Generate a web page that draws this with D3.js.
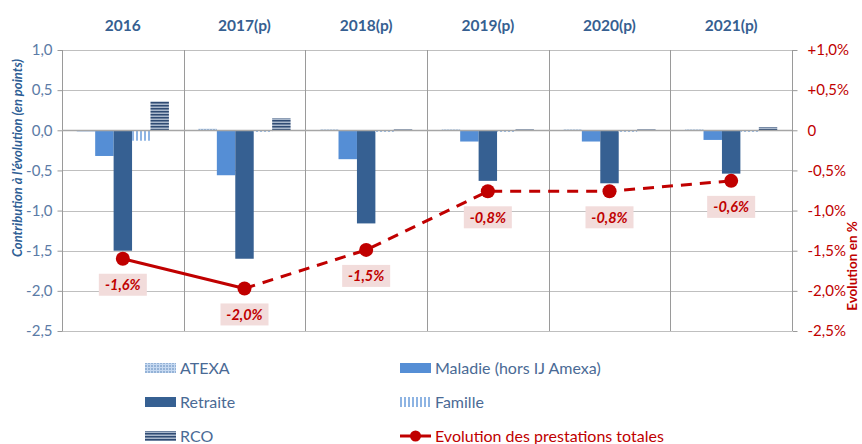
<!DOCTYPE html>
<html>
<head>
<meta charset="utf-8">
<script src="https://cdn.jsdelivr.net/npm/d3@7"></script>
<style>
  body { margin: 0; background: #fff; }
  svg text { font-family: Lato, 'Open Sans', sans-serif; }
</style>
</head>
<body>
<svg id="chart" width="862" height="444"></svg>
<script>
'use strict';

var years = ['2016', '2017(p)', '2018(p)', '2019(p)', '2020(p)', '2021(p)'];
var series = ['ATEXA', 'Maladie (hors IJ Amexa)', 'Retraite', 'Famille', 'RCO'];

// contributions in points, one array per series
var atexa = [-0.02, 0.02, 0.01, 0.01, 0.01, 0.01];
var maladie = [-0.32, -0.56, -0.36, -0.14, -0.14, -0.12];
var retraite = [-1.50, -1.60, -1.16, -0.63, -0.66, -0.54];
var famille = [-0.13, -0.02, -0.02, -0.02, -0.02, -0.02];
var rco = [0.36, 0.15, 0.01, 0.01, 0.01, 0.04];

// total evolution in %
var evolution = [-1.6, -1.97, -1.49, -0.76, -0.76, -0.63];

var leftTicks = [1.0, 0.5, 0, -0.5, -1.0, -1.5, -2.0, -2.5];

var values = [atexa, maladie, retraite, famille, rco];
var fills = ['url(#pAtexa)', '#558ED5', '#366092', 'url(#pFamille)', 'url(#pRco)'];

var svg = d3.select('#chart');
var red = '#C00000';

function fr(d) {
  return d3.format('.1f')(d).replace('.', ',').replace('\u2212', '-');
}

var defs = svg.append('defs');
// atexa: fine dotted grid
var pa = defs.append('pattern').attr('id', 'pAtexa').attr('patternUnits', 'userSpaceOnUse')
  .attr('width', 3).attr('height', 3);
pa.append('rect').attr('width', 3).attr('height', 3).attr('fill', '#C6D9F1');
pa.append('rect').attr('width', 2).attr('height', 2).attr('fill', '#95B3D7');
// famille: vertical stripes
var pf = defs.append('pattern').attr('id', 'pFamille').attr('patternUnits', 'userSpaceOnUse')
  .attr('width', 4).attr('height', 4);
pf.append('rect').attr('width', 4).attr('height', 4).attr('fill', '#fff');
pf.append('rect').attr('width', 2).attr('height', 4).attr('fill', '#8EB4E3');
// rco: horizontal stripes
var pr = defs.append('pattern').attr('id', 'pRco').attr('patternUnits', 'userSpaceOnUse')
  .attr('width', 4).attr('height', 3);
pr.append('rect').attr('width', 4).attr('height', 3).attr('fill', '#A9B8CC');
pr.append('rect').attr('width', 4).attr('height', 1.5).attr('fill', '#2F4B73');

var x0 = d3.scaleBand().domain(years).range([62, 792]);
var x1 = d3.scaleBand().domain(series).range([0, x0.bandwidth()]).paddingOuter(0.8);
var y = d3.scaleLinear().domain([-2.5, 1.0]).range([331, 50]);
var yR = d3.scaleLinear().domain([-2.5, 1.0]).range([331, 50]);

// horizontal gridlines
svg.append('g').selectAll('line').data(leftTicks).enter().append('line')
  .attr('x1', 62).attr('x2', 792)
  .attr('y1', function (d) { return Math.round(y(d)) + 0.5; })
  .attr('y2', function (d) { return Math.round(y(d)) + 0.5; })
  .attr('stroke', '#BFBFBF').attr('stroke-width', 1);

// column separators
var seps = years.map(function (d) { return x0(d); }).concat([792]);
svg.append('g').selectAll('line').data(seps).enter().append('line')
  .attr('x1', function (d) { return Math.round(d) + 0.5; })
  .attr('x2', function (d) { return Math.round(d) + 0.5; })
  .attr('y1', 50).attr('y2', 331)
  .attr('stroke', '#9A9A9A');

// left axis
var axL = svg.append('g').attr('transform', 'translate(62.5,0)')
  .call(d3.axisLeft(y).tickValues(leftTicks).tickSize(5).tickPadding(5).tickFormat(fr));
axL.select('.domain').remove();
axL.selectAll('line').attr('stroke', '#9A9A9A');
axL.selectAll('text').attr('fill', '#5B7BA6').style('font-size', '15px');

// right axis
var axR = svg.append('g').attr('transform', 'translate(792.5,0)')
  .call(d3.axisRight(yR).tickValues(leftTicks).tickSize(5).tickPadding(10)
    .tickFormat(function (d) {
      if (d === 0) { return '0'; }
      return (d > 0 ? '+' : '') + fr(d) + '%';
    }));
axR.select('.domain').remove();
axR.selectAll('line').attr('stroke', '#9A9A9A');
axR.selectAll('text').attr('fill', red).style('font-size', '15px');

// year headers
svg.append('g').selectAll('text').data(years).enter().append('text')
  .attr('x', function (d) { return x0(d) + x0.bandwidth() / 2; })
  .attr('y', 31)
  .attr('text-anchor', 'middle')
  .attr('fill', '#365F91')
  .style('font-size', '15.5px').style('font-weight', 'bold')
  .text(function (d) { return d; });

// bars
series.forEach(function (s, si) {
  svg.append('g').selectAll('rect').data(values[si]).enter().append('rect')
    .attr('x', function (d, i) { return x0(years[i]) + x1(s); })
    .attr('width', x1.bandwidth())
    .attr('y', function (d) { return y(Math.max(0, d)); })
    .attr('height', function (d) { return Math.max(1.5, Math.abs(y(d) - y(0))); })
    .attr('fill', fills[si]);
});

// zero line on top
svg.append('line').attr('x1', 62).attr('x2', 792)
  .attr('y1', Math.round(y(0)) + 0.5).attr('y2', Math.round(y(0)) + 0.5)
  .attr('stroke', '#A6A6A6').attr('stroke-width', 1.5);

// evolution line
var cx = function (i) { return x0(years[i]) + x0.bandwidth() / 2; };
var line = d3.line().x(function (d) { return d[0]; }).y(function (d) { return d[1]; });
var pts = evolution.map(function (v, i) { return [cx(i), yR(v)]; });
svg.append('path').attr('d', line(pts.slice(0, 2)))
  .attr('fill', 'none').attr('stroke', red).attr('stroke-width', 3);
svg.append('path').attr('d', line(pts.slice(1)))
  .attr('fill', 'none').attr('stroke', red).attr('stroke-width', 3)
  .attr('stroke-dasharray', '11,8');
svg.append('g').selectAll('circle').data(pts).enter().append('circle')
  .attr('cx', function (d) { return d[0]; })
  .attr('cy', function (d) { return d[1]; })
  .attr('r', 7).attr('fill', red);

// value labels
var lab = svg.append('g').selectAll('g').data(evolution).enter().append('g')
  .attr('transform', function (v, i) { return 'translate(' + cx(i) + ',' + (yR(v) + 26) + ')'; });
lab.append('rect').attr('x', -24).attr('y', -11).attr('width', 48).attr('height', 22)
  .attr('fill', '#F2DCDB');
lab.append('text').attr('text-anchor', 'middle').attr('dy', '0.36em')
  .attr('fill', red).style('font-size', '14.5px').style('font-weight', 'bold').style('font-style', 'italic')
  .text(function (v) { return fr(v) + '%'; });

// axis titles
svg.append('text').attr('transform', 'translate(22,158) rotate(-90)')
  .attr('text-anchor', 'middle').attr('fill', '#2E5E95')
  .style('font-size', '13px').style('font-weight', 'bold').style('font-style', 'italic')
  .text('Contribution à l\'évolution (en points)');
svg.append('text').attr('transform', 'translate(857,266) rotate(-90)')
  .attr('text-anchor', 'middle').attr('fill', red)
  .style('font-size', '13.5px').style('font-weight', 'bold')
  .text('Evolution en %');

// legend
var legend = [
  {name: 'ATEXA', x: 145, y: 368, fill: fills[0]},
  {name: 'Maladie (hors IJ Amexa)', x: 400, y: 368, fill: fills[1]},
  {name: 'Retraite', x: 145, y: 402, fill: fills[2]},
  {name: 'Famille', x: 400, y: 402, fill: fills[3]},
  {name: 'RCO', x: 145, y: 436, fill: fills[4]}
];
var lg = svg.append('g').selectAll('g').data(legend).enter().append('g')
  .attr('transform', function (d) { return 'translate(' + d.x + ',' + d.y + ')'; });
lg.append('rect').attr('x', 0).attr('y', -5).attr('width', 31).attr('height', 10)
  .attr('fill', function (d) { return d.fill; });
lg.append('text').attr('x', 35).attr('dy', '0.36em').attr('fill', '#4A6A95')
  .style('font-size', '16px').text(function (d) { return d.name; });

var ll = svg.append('g').attr('transform', 'translate(400,436)');
ll.append('line').attr('x1', 0).attr('x2', 31).attr('stroke', red).attr('stroke-width', 3);
ll.append('circle').attr('cx', 15.5).attr('r', 5.5).attr('fill', red);
ll.append('text').attr('x', 35).attr('dy', '0.36em').attr('fill', red)
  .style('font-size', '16px').text('Evolution des prestations totales');
</script>
</body>
</html>
